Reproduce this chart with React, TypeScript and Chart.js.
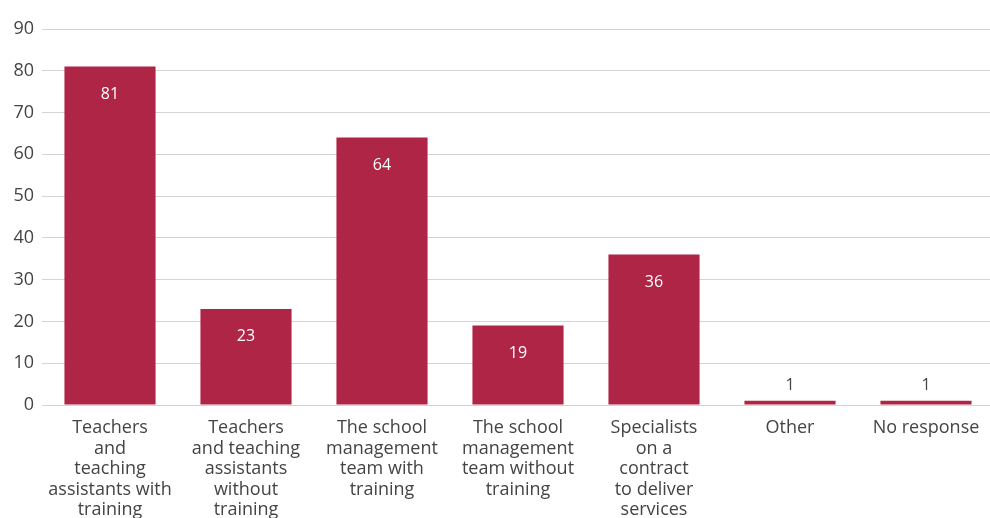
import React, { useEffect, useRef } from "react";
import { Chart, registerables } from "chart.js";

Chart.register(...registerables);

const categories: string[][] = [
  ["Teachers", "and", "teaching", "assistants with", "training"],
  ["Teachers", "and teaching", "assistants", "without", "training"],
  ["The school", "management", "team with", "training"],
  ["The school", "management", "team without", "training"],
  ["Specialists", "on a", "contract", "to deliver", "services"],
  ["Other"],
  ["No response"],
];
const values: number[] = [81, 23, 64, 19, 36, 1, 1];
const yTicks: number[] = [0, 10, 20, 30, 40, 50, 60, 70, 80, 90];

const BAR_COLOR = "#ae2546";
const TEXT_COLOR = "#444444";
const FONT = "'Open Sans', 'Noto Sans', sans-serif";

const labelPlugin = {
  id: "barLabels",
  afterDatasetsDraw(chart: any) {
    const ctx = chart.ctx;
    const meta = chart.getDatasetMeta(0);
    ctx.save();
    ctx.font = `16px ${FONT}`;
    ctx.textAlign = "center";
    ctx.textBaseline = "middle";
    meta.data.forEach((bar: any, i: number) => {
      const v = values[i];
      if (v >= 5) {
        ctx.fillStyle = "#ffffff";
        ctx.fillText(String(v), bar.x, bar.y + 28);
      } else {
        ctx.fillStyle = TEXT_COLOR;
        ctx.fillText(String(v), bar.x, bar.y - 15);
      }
    });
    ctx.restore();
  },
};

export default function App() {
  const ref = useRef<HTMLCanvasElement | null>(null);
  useEffect(() => {
    if (!ref.current) return;
    const chart = new Chart(ref.current, {
      type: "bar",
      data: {
        labels: categories,
        datasets: [
          {
            data: values,
            backgroundColor: BAR_COLOR,
            barPercentage: 0.67,
            categoryPercentage: 1,
          },
        ],
      },
      options: {
        animation: false,
        responsive: false,
        maintainAspectRatio: false,
        devicePixelRatio: 1,
        layout: { padding: { top: 29, right: 6, left: 0, bottom: 0 } },
        plugins: { legend: { display: false }, tooltip: { enabled: false } },
        scales: {
          x: {
            grid: { display: false, drawTicks: false },
            border: { display: false },
            ticks: {
              color: TEXT_COLOR,
              font: { family: FONT, size: 18, lineHeight: 1.14 },
              padding: 13,
              maxRotation: 0,
              autoSkip: false,
            },
            afterFit: (s: any) => {
              s.height = 135;
            },
          },
          y: {
            min: 0,
            max: 90,
            afterBuildTicks: (s: any) => {
              s.ticks = yTicks.map((v) => ({ value: v }));
            },
            grid: { color: "#d4d4d4", lineWidth: 1, drawTicks: false },
            border: { display: false },
            ticks: {
              color: TEXT_COLOR,
              font: { family: FONT, size: 18 },
              padding: 8,
            },
            afterFit: (s: any) => {
              s.width = 42;
            },
          },
        },
      },
      plugins: [labelPlugin],
    });
    return () => chart.destroy();
  }, []);
  return (
    <div style={{ position: "fixed", left: 0, top: 0, width: 990, height: 518, overflow: "hidden", background: "#fff" }}>
      <canvas ref={ref} width={1000} height={540} style={{ display: "block" }} />
    </div>
  );
}
